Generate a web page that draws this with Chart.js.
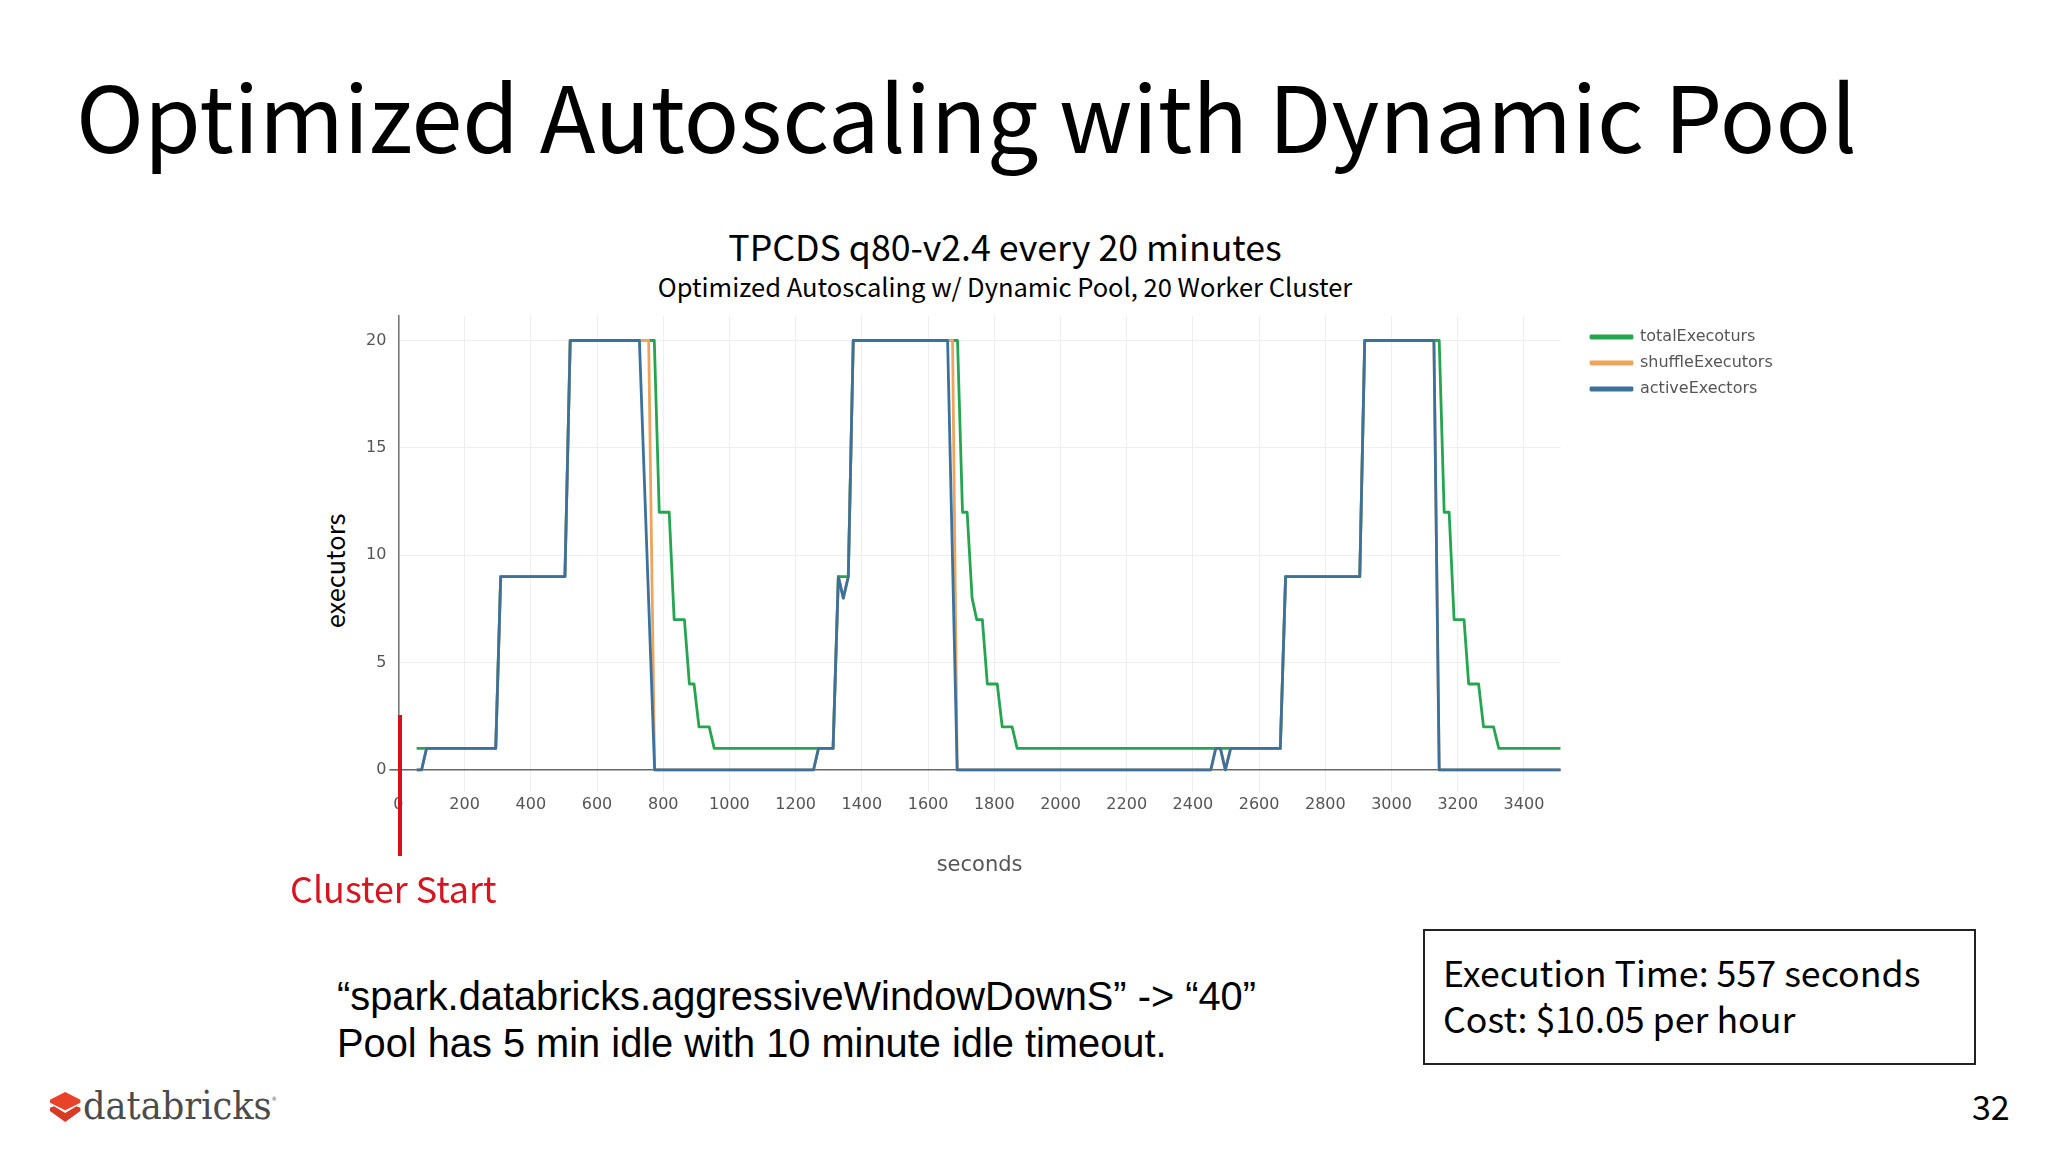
<!DOCTYPE html>
<html lang="en">
<head>
<meta charset="UTF-8">
<title>Optimized Autoscaling with Dynamic Pool</title>
<script src="https://cdn.jsdelivr.net/npm/chart.js"></script>
<style>
    html, body { margin: 0; padding: 0; background: #fff; }
    #slide { position: relative; width: 2048px; height: 1152px; overflow: hidden; font-family: "Noto Sans CJK SC", "Noto Sans", sans-serif; color: #000; }
    #slide div { position: absolute; white-space: nowrap; }
    #chartBox { left: 360px; top: 300px; width: 1440px; height: 578px; }
    #slideTitle { left: 76px; top: 48px; font-size: 91.7px; line-height: 130px; }
    #subTitle1 { left: 0; width: 2010px; text-align: center; top: 221px; font-size: 35.7px; line-height: 50px; }
    #subTitle2 { left: 0; width: 2010px; text-align: center; top: 267px; font-size: 25.5px; line-height: 38px; }
    #yLabel { left: 334px; top: 571px; font-size: 25.4px; line-height: 30px; transform: translate(-50%, -50%) rotate(-90deg); }
    #startLine { left: 398px; top: 715px; width: 4px; height: 141px; background: #d8101c; }
    #startLabel { left: 290px; top: 862px; font-size: 35.9px; line-height: 50px; color: #d8141e; }
    #note1 { left: 337px; top: 973px; font-family: "Liberation Sans", Arial, sans-serif; font-size: 39.8px; line-height: 46px; }
    #note2 { left: 337px; top: 1020px; font-family: "Liberation Sans", Arial, sans-serif; font-size: 39.8px; line-height: 46px; }
    #statBox { left: 1423px; top: 929px; width: 549px; height: 132px; border: 2px solid #222; }
    #stat1 { left: 1443px; top: 946px; font-size: 35.75px; line-height: 52px; }
    #stat2 { left: 1443px; top: 992px; font-size: 35.75px; line-height: 52px; }
    #pageNum { left: 1972px; top: 1084px; font-size: 34px; line-height: 44px; }
    #logoText { left: 83px; top: 1072px; font-family: "DejaVu Serif Condensed", "DejaVu Serif", serif; font-stretch: condensed; font-size: 39.2px; line-height: 54px; color: #4b4b4b; }
    #logoText span { font-size: 6px; vertical-align: 18px; }
    svg { position: absolute; left: 50px; top: 1092px; }
</style>
</head>
<body>
<div id="slide">
    <div id="slideTitle">Optimized Autoscaling with Dynamic Pool</div>
    <div id="subTitle1">TPCDS q80-v2.4 every 20 minutes</div>
    <div id="subTitle2">Optimized Autoscaling w/ Dynamic Pool, 20 Worker Cluster</div>
    <div id="chartBox"><canvas id="myChart" width="1440" height="578"></canvas></div>
    <div id="yLabel">executors</div>
    <div id="startLine"></div>
    <div id="startLabel">Cluster Start</div>
    <div id="note1">“spark.databricks.aggressiveWindowDownS” -&gt; “40”</div>
    <div id="note2">Pool has 5 min idle with 10 minute idle timeout.</div>
    <div id="statBox"></div>
    <div id="stat1">Execution Time: 557 seconds</div>
    <div id="stat2">Cost: $10.05 per hour</div>
    <div id="pageNum">32</div>
    <svg width="31" height="31" viewBox="0 0 31 31">
        <polygon points="0,15.7 4,14.3 15.2,21 26.4,14.3 30.4,15.7 30.4,19 15.2,30 0,19" fill="#d83a26"/>
        <polygon points="0,7.7 15.2,0 30.4,7.7 30.4,10.7 15.2,18.3 0,10.7" fill="#e8432a"/>
    </svg>
    <div id="logoText">databricks<span>®</span></div>
</div>

<script>
    // seconds and executor counts
    const totalX = [55, 85, 294, 309, 503, 519, 773, 788, 818, 833, 864, 879, 893, 908, 939, 954,
        1313, 1329, 1359, 1374, 1689, 1704, 1718, 1733, 1747, 1764, 1779, 1809, 1824, 1854, 1869,
        2664, 2680, 2904, 2919, 3144, 3159, 3174, 3189, 3219, 3233, 3263, 3278, 3308, 3324, 3511];
    const totalY = [1, 1, 1, 9, 9, 20, 20, 12, 12, 7, 7, 4, 4, 2, 2, 1,
        1, 9, 9, 20, 20, 12, 12, 8, 7, 7, 4, 4, 2, 2, 1,
        1, 9, 9, 20, 20, 12, 12, 7, 7, 4, 4, 2, 2, 1, 1];

    const shuffleX = [55, 70, 85, 294, 309, 503, 519, 756, 774, 1254, 1269, 1313, 1329, 1344, 1359, 1374,
        1674, 1688, 2454, 2469, 2483, 2498, 2514, 2664, 2680, 2904, 2919, 3128, 3144, 3511];
    const shuffleY = [0, 0, 1, 1, 9, 9, 20, 20, 0, 0, 1, 1, 9, 8, 9, 20,
        20, 0, 0, 1, 1, 0, 1, 1, 9, 9, 20, 20, 0, 0];

    const activeX = [55, 70, 85, 294, 309, 503, 519, 728, 774, 1254, 1269, 1313, 1329, 1344, 1359, 1374,
        1659, 1688, 2454, 2469, 2483, 2498, 2514, 2664, 2680, 2904, 2919, 3128, 3144, 3511];
    const activeY = [0, 0, 1, 1, 9, 9, 20, 20, 0, 0, 1, 1, 9, 8, 9, 20,
        20, 0, 0, 1, 1, 0, 1, 1, 9, 9, 20, 20, 0, 0];

    function toPoints(xs, ys) {
        return xs.map((x, i) => ({ x: x, y: ys[i] }));
    }

    // the legend sits right of the plot, outside the chart area
    const legendPlacer = {
        id: 'legendPlacer',
        afterLayout(chart) {
            const legend = chart.legend;
            const w = legend.width, h = legend.height;
            legend.left = 1221;
            legend.top = 19;
            legend.right = legend.left + w;
            legend.bottom = legend.top + h;
        }
    };

    new Chart(document.getElementById('myChart'), {
        type: 'line',
        data: {
            datasets: [
                { label: 'totalExecoturs', data: toPoints(totalX, totalY), borderColor: '#25a550', backgroundColor: '#25a550', order: 3 },
                { label: 'shuffleExecutors', data: toPoints(shuffleX, shuffleY), borderColor: '#eea45c', backgroundColor: '#eea45c', order: 2 },
                { label: 'activeExectors', data: toPoints(activeX, activeY), borderColor: '#3a719d', backgroundColor: '#3a719d', order: 1 }
            ]
        },
        plugins: [legendPlacer],
        options: {
            responsive: false,
            animation: false,
            devicePixelRatio: 1,
            elements: {
                point: { radius: 0 },
                line: { borderWidth: 2.8, tension: 0, borderJoinStyle: 'round' }
            },
            layout: { padding: { top: 16, right: 239.3, left: 0, bottom: 0 } },
            plugins: {
                tooltip: { enabled: false },
                legend: {
                    position: 'chartArea',
                    align: 'start',
                    labels: {
                        boxWidth: 41,
                        boxHeight: 2,
                        padding: 10,
                        color: '#555',
                        font: { family: '"DejaVu Sans"', size: 16 },
                        sort: (a, b) => a.datasetIndex - b.datasetIndex
                    }
                }
            },
            scales: {
                x: {
                    type: 'linear',
                    min: 0,
                    max: 3511,
                    afterFit: (scale) => { scale.height = 86.2; },
                    grid: { color: '#efefef', lineWidth: 1, drawTicks: false },
                    border: { display: false },
                    title: {
                        display: true,
                        text: 'seconds',
                        color: '#555',
                        font: { family: '"DejaVu Sans"', size: 21 },
                        padding: 0
                    },
                    ticks: {
                        stepSize: 200,
                        includeBounds: false,
                        autoSkip: false,
                        maxRotation: 0,
                        padding: 3,
                        color: '#555',
                        font: { family: '"DejaVu Sans"', size: 16 },
                        callback: (v) => String(v)
                    }
                },
                y: {
                    min: -1.02,
                    max: 21.14,
                    afterFit: (scale) => { scale.width = 38.4; },
                    grid: {
                        color: (ctx) => ctx.tick.value === 0 ? '#666' : '#efefef',
                        lineWidth: (ctx) => ctx.tick.value === 0 ? 1.6 : 1,
                        tickColor: (ctx) => ctx.tick.value === 0 ? '#666' : 'transparent',
                        tickLength: 9
                    },
                    border: { color: '#777', width: 1.6 },
                    ticks: {
                        stepSize: 5,
                        includeBounds: false,
                        padding: 3,
                        color: '#555',
                        font: { family: '"DejaVu Sans"', size: 16 }
                    }
                }
            }
        }
    });
</script>
</body>
</html>
